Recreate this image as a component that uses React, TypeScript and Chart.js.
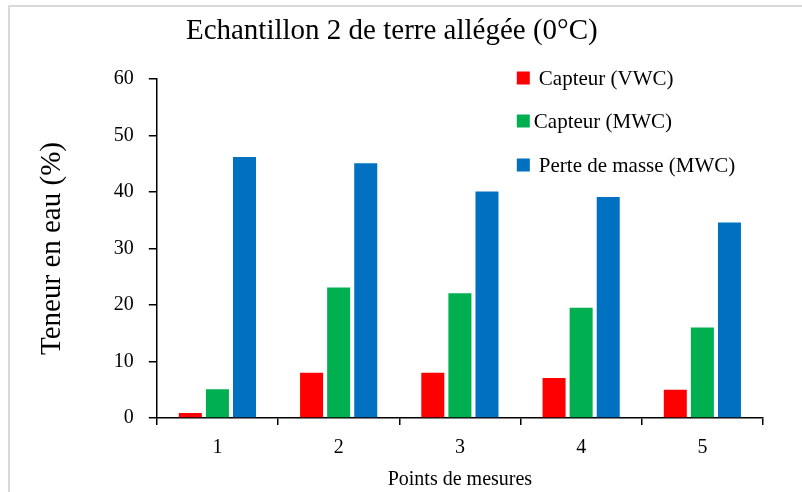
import React, { useEffect, useRef } from "react";
import { Chart, registerables } from "chart.js";

Chart.register(...registerables);

const chartTitle = "Echantillon 2 de terre allégée (0°C)";
const categories = ["1", "2", "3", "4", "5"];
const capteurVWC = [0.9, 8, 8, 7.1, 5];
const capteurMWC = [5.1, 23.1, 22.1, 19.5, 16];
const perteMasse = [46.2, 45.1, 40.1, 39.1, 34.6];
const seriesLabels = ["Capteur (VWC)", "Capteur (MWC)", "Perte de masse (MWC)"];
const seriesColors = ["#FF0000", "#00B050", "#0070C0"];

const FONT = "'Liberation Serif', 'Times New Roman', serif";

const titleAndLegend = {
  id: "titleAndLegend",
  afterDraw(chart: any) {
    const ctx = chart.ctx;
    const area = chart.chartArea;
    ctx.save();
    // title
    ctx.font = `29px ${FONT}`;
    ctx.fillStyle = "#000";
    ctx.textAlign = "center";
    ctx.textBaseline = "middle";
    ctx.fillText(chartTitle, area.left + 235, area.top - 48);
    // legend inside plot area
    const x0 = area.left + 360;
    const rows = [area.top - 1, area.top + 42, area.top + 86];
    const textOffsets = [22, 17, 22];
    ctx.font = `21px ${FONT}`;
    ctx.textAlign = "left";
    chart.data.datasets.forEach((ds: any, i: number) => {
      ctx.fillStyle = ds.backgroundColor;
      ctx.fillRect(x0, rows[i] - 6.5, 13, 13);
      ctx.fillStyle = "#000";
      ctx.fillText(ds.label, x0 + textOffsets[i], rows[i] + 1);
    });
    ctx.restore();
  },
};

export default function App() {
  const ref = useRef<HTMLCanvasElement | null>(null);
  useEffect(() => {
    if (!ref.current) return;
    const chart = new Chart(ref.current, {
      type: "bar",
      data: {
        labels: categories,
        datasets: [capteurVWC, capteurMWC, perteMasse].map((d, i) => ({
          label: seriesLabels[i],
          data: d,
          backgroundColor: seriesColors[i],
          borderWidth: 0,
          categoryPercentage: 0.67,
          barPercentage: 0.85,
        })),
      },
      options: {
        responsive: false,
        animation: false,
        layout: { padding: { top: 72, right: 39, bottom: 0, left: 25 } },
        plugins: {
          legend: { display: false },
          tooltip: { enabled: false },
          title: { display: false },
        },
        scales: {
          x: {
            grid: { display: true, drawOnChartArea: false, drawTicks: true, tickLength: 7, color: "#000", lineWidth: 1.5 },
            border: { display: true, color: "#000", width: 1.5 },
            ticks: { color: "#000", font: { family: FONT, size: 20 }, padding: 11 },
            title: {
              display: true,
              text: "Points de mesures",
              color: "#000",
              font: { family: FONT, size: 20 },
              padding: { top: -3, bottom: 0 },
            },
          },
          y: {
            min: 0,
            max: 60,
            ticks: { stepSize: 10, color: "#000", font: { family: FONT, size: 20 }, padding: 15 },
            grid: { display: true, drawOnChartArea: false, drawTicks: true, tickLength: 8, color: "#000", lineWidth: 1.5 },
            border: { display: true, color: "#000", width: 1.5 },
            title: {
              display: true,
              text: "Teneur en eau (%)",
              color: "#000",
              font: { family: FONT, size: 29 },
              padding: { top: 0, bottom: 29 },
            },
          },
        },
      },
      plugins: [titleAndLegend],
    });
    return () => chart.destroy();
  }, []);
  return (
    <div
      style={{
        position: "absolute",
        left: 8,
        top: 5,
        width: 794,
        height: 487,
        borderTop: "2px solid #d9d9d9",
        borderLeft: "2px solid #d9d9d9",
        background: "#fff",
      }}
    >
      <canvas ref={ref} width={792} height={485} style={{ display: "block" }} />
    </div>
  );
}
